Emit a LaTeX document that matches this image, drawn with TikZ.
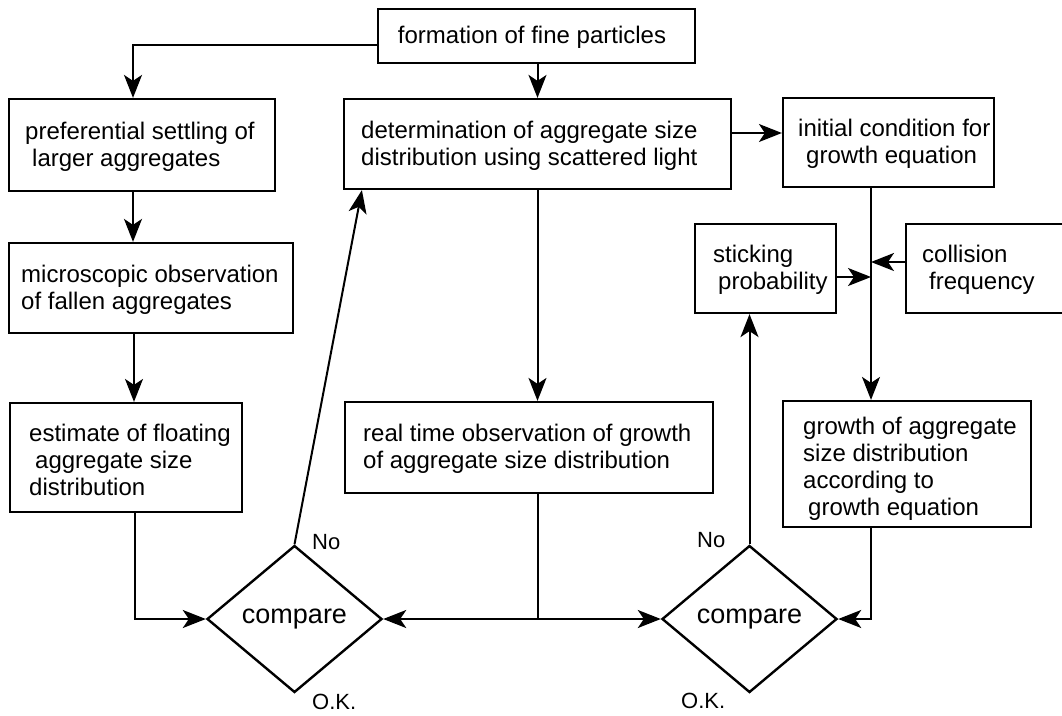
\documentclass[tikz,border=0pt]{standalone}
\usepackage{fontspec}
\setmainfont{Liberation Sans}
\usetikzlibrary{arrows.meta,calc,shapes.geometric}
\newcommand\bxf{\fontsize{24}{27}\selectfont}
\newcommand\cmpf{\fontsize{27}{30}\selectfont}
\newcommand\lblf{\fontsize{22}{24}\selectfont}
\begin{document}
\begin{tikzpicture}[x=1pt,y=-1pt,
  box/.style={draw, line width=2.2pt, rectangle, inner sep=0pt},
  txt/.style={anchor=west, align=left, inner sep=0pt, font=\bxf},
  dec/.style={draw, line width=2.4pt, diamond, inner sep=0pt, minimum width=175pt, minimum height=147pt, font=\cmpf},
  lbl/.style={anchor=west, inner sep=0pt, font=\lblf},
  arr/.style={line width=2pt, -{Stealth[length=23pt,width=18pt,inset=6pt]}},
  ln/.style={line width=2pt}]
\clip (0,0) rectangle (1062,715);
\fill[white] (0,0) rectangle (1062,715);
% boxes
\node[box, minimum width=317pt, minimum height=54pt] (form) at (536.5,36) {};
\node[inner sep=0pt, font=\bxf] (tform) at (532,37) {formation of fine particles};
\node[box, minimum width=266pt, minimum height=92pt] (pref) at (142,145) {};
\node[txt] (tpref) at (25,147) {preferential settling of\\\hspace*{7pt}larger aggregates};
\node[box, minimum width=284pt, minimum height=90pt] (micro) at (151,288) {};
\node[txt] (tmicro) at (21,290) {microscopic observation\\of fallen aggregates};
\node[box, minimum width=232pt, minimum height=109pt] (est) at (126,457.5) {};
\node[txt] (test) at (29,460) {estimate of floating\\\hspace*{6pt}aggregate size\\distribution};
\node[box, minimum width=387pt, minimum height=90pt] (det) at (537.5,144) {};
\node[txt] (tdet) at (361,146) {determination of aggregate size\\distribution using scattered light};
\node[box, minimum width=368pt, minimum height=91pt] (real) at (529,447.5) {};
\node[txt] (treal) at (363,449) {real time observation of growth\\of aggregate size distribution};
\node[box, minimum width=211pt, minimum height=89pt] (init) at (888.5,142.5) {};
\node[txt] (tinit) at (798,144) {initial condition for\\\hspace*{8pt}growth equation};
\node[box, minimum width=141pt, minimum height=89pt] (stick) at (765.5,268.5) {};
\node[txt] (tstick) at (713,270) {sticking\\\hspace*{5pt}probability};
\node[box, minimum width=169pt, minimum height=89pt] (coll) at (990.5,268.5) {};
\node[txt] (tcoll) at (922,270) {collision\\\hspace*{7pt}frequency};
\node[box, minimum width=248pt, minimum height=126pt] (grow) at (907,464) {};
\node[txt] (tgrow) at (803,469) {growth of aggregate\\size distribution\\according to\\\hspace*{5pt}growth equation};
% decisions
\node[dec] (cmp1) at (294.5,619) {compare};
\node[dec] (cmp2) at (749.5,619) {compare};
\node[lbl] (no1) at (312,542) {No};
\node[lbl] (ok1) at (312,702) {O.K.};
\node[lbl] (no2) at (697,540) {No};
\node[lbl] (ok2) at (681,701) {O.K.};
% connectors
\draw[arr] ($(form.west)+(0,9)$) -| ($(pref.north)+(-9,0)$);
\draw[arr] ($(pref.south)+(-9,0)$) -- ($(micro.north)+(-18,0)$);
\draw[arr] ($(micro.south)+(-17,0)$) -- ($(est.north)+(8,0)$);
\draw[arr] ($(est.south)+(9,0)$) |- (cmp1.west);
\draw[arr] (form.south -| det.north) -- (det.north);
\draw[arr] (det.south) -- (det.south |- real.north);
\coordinate (j) at (537.5,619);
\draw[ln] (det.south |- real.south) -- (j);
\draw[arr] (j) -- (cmp1.east);
\draw[arr] (j) -- (cmp2.west);
\draw[arr] (cmp1.north) -- ($(det.south west)+(19,0)$);
\draw[arr] ($(det.east)+(0,-11)$) coordinate (a) -- (init.west |- a);
\draw[arr] ($(init.south)+(-17.5,0)$) -- ($(grow.north)+(-36,0)$);
\coordinate (v1) at (871,277);
\coordinate (v2) at (871,262);
\draw[arr] (stick.east |- v1) -- (v1);
\draw[arr] (coll.west |- v2) -- (v2);
\draw[arr] ($(grow.south)+(-36,0)$) |- (cmp2.east);
\draw[arr] (cmp2.north) -- (cmp2.north |- stick.south);
\end{tikzpicture}
\end{document}
